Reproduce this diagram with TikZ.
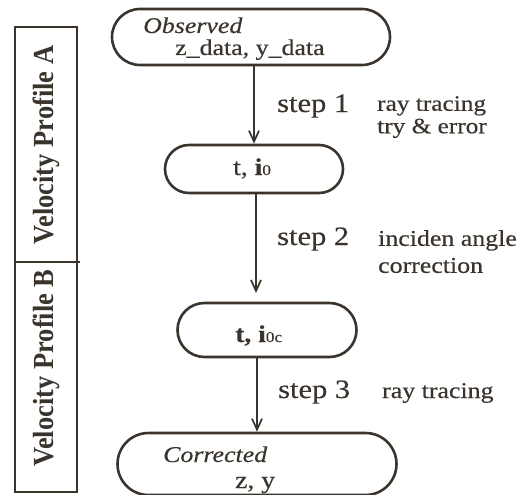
\documentclass[tikz,border=0pt]{standalone}
\usepackage{fontspec}
\setmainfont{Liberation Serif}[FakeStretch=1.15, FakeBold=0.4]
\newfontfamily\vpfont{Liberation Serif}
\usetikzlibrary{shapes.misc,arrows.meta}
\definecolor{ink}{RGB}{58,52,45}
\tikzset{
  stad/.style={draw=ink, line width=2.6pt, rounded rectangle, inner sep=0pt},
  txt/.style={anchor=base west, inner sep=0pt, text=ink},
  twoline/.style={anchor=north west, inner sep=0pt, text=ink, align=left},
  arr/.style={draw=ink, line width=1.9pt, -{Straight Barb[length=11pt,width=10pt,line width=1.7pt]}},
  frame/.style={draw=ink, line width=2.2pt},
  stepfont/.style={font=\fontsize{26.5}{28}\selectfont},
  lblfont/.style={font=\fontsize{22.5}{24}\selectfont},
  lbltwo/.style={font=\fontsize{22}{22.5}\selectfont},
  vptext/.style={rotate=90, anchor=base, inner sep=0pt, text=ink, font=\vpfont\bfseries\fontsize{26.5}{28}\selectfont}
}
\begin{document}
\begin{tikzpicture}[x=1pt,y=-1pt]
\useasboundingbox[fill=white] (0,0) rectangle (525,495);
% left frame
\draw[frame] (15,27) rectangle (77,492);
\draw[frame] (15,262) -- (80,262);
\node[vptext] (vpa) at (53,145) {\scalebox{1}[1.1]{Velocity Profile A}};
\node[vptext] (vpb) at (53,368) {\scalebox{1}[1.1]{Velocity Profile B}};
% stadium nodes
\node[stad, minimum width=278pt, minimum height=56pt] (n1) at (251,37) {};
\node[stad, minimum width=178pt, minimum height=48pt] (n2) at (254,169) {};
\node[stad, minimum width=179pt, minimum height=54pt] (n3) at (267,330) {};
\node[stad, minimum width=279pt, minimum height=62pt] (n4) at (257,464) {};
% node texts
\node[txt, lblfont] (t1a) at (143,33) {\itshape Observed};
\node[txt, lblfont] (t1b) at (175,55) {z\_data, y\_data};
\node[txt, font=\fontsize{24}{26}\selectfont] (t2) at (233,175) {t, \textbf{i}{\fontsize{15}{15}\selectfont 0}};
\node[txt, font=\fontsize{24}{26}\selectfont] (t3) at (235,342) {\textbf{t, i}{\fontsize{15}{15}\selectfont 0c}};
\node[txt, lblfont] (t4a) at (163,462) {\itshape Corrected};
\node[txt, font=\fontsize{24}{26}\selectfont] (t4b) at (235,488) {z, y};
% connectors
\coordinate (a2end) at (256,293);
\draw[arr] (n1.south -| n2.north) -- (n2.north);
\draw[arr] (n2.south -| a2end) -- (a2end);
\draw[arr] (n3.south -| n4.north) -- (n4.north);
% step labels
\node[txt, stepfont] (s1) at (277,112) {step 1};
\node[twoline, lbltwo] (l1) at (377,96) {ray tracing\\try \& error};
\node[txt, stepfont] (s2) at (277,245) {step 2};
\node[twoline, font=\fontsize{22.5}{27}\selectfont] (l2) at (378,230) {inciden angle\\correction};
\node[txt, stepfont] (s3) at (278,398) {step 3};
\node[txt, lblfont] (l3a) at (382,398) {ray tracing};
\end{tikzpicture}
\end{document}
